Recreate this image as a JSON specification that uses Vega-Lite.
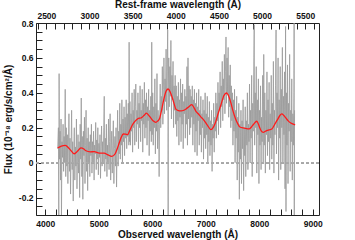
{
  "$schema": "https://vega.github.io/schema/vega-lite/v6.json",
  "width": 283,
  "height": 192,
  "autosize": "none",
  "padding": {"left": 36, "top": 23, "right": 36, "bottom": 25},
  "background": "white",
  "view": {"stroke": "#222222", "strokeWidth": 1},
  "config": {
    "font": "Liberation Sans",
    "axis": {
      "grid": false,
      "domain": false,
      "tickColor": "#222222",
      "tickSize": -6,
      "labelFont": "Liberation Sans",
      "labelFontWeight": "bold",
      "labelFontSize": 8.5,
      "labelColor": "#111111",
      "titleFont": "Liberation Sans",
      "titleFontWeight": "bold",
      "titleFontSize": 10,
      "titleColor": "#111111",
      "labelFlush": false,
      "labelOverlap": false
    }
  },
  "datasets": {
    "spec": [
      {"wave": 4232, "flux": 0.08}, {"wave": 4245, "flux": 0.20}, {"wave": 4252, "flux": -0.33}, {"wave": 4258, "flux": 0.51},
      {"wave": 4266, "flux": 0.02}, {"wave": 4276, "flux": 0.18}, {"wave": 4285, "flux": -0.10}, {"wave": 4294, "flux": 0.25},
      {"wave": 4302, "flux": -0.31}, {"wave": 4312, "flux": 0.12}, {"wave": 4322, "flux": 0.03}, {"wave": 4332, "flux": 0.22},
      {"wave": 4342, "flux": -0.05}, {"wave": 4352, "flux": 0.15}, {"wave": 4362, "flux": 0.00}, {"wave": 4372, "flux": 0.42},
      {"wave": 4382, "flux": -0.08}, {"wave": 4392, "flux": 0.20}, {"wave": 4402, "flux": -0.02}, {"wave": 4412, "flux": 0.16},
      {"wave": 4422, "flux": -0.12}, {"wave": 4432, "flux": 0.10}, {"wave": 4442, "flux": 0.28}, {"wave": 4452, "flux": -0.05},
      {"wave": 4462, "flux": 0.14}, {"wave": 4472, "flux": -0.18}, {"wave": 4482, "flux": 0.08}, {"wave": 4492, "flux": 0.30},
      {"wave": 4502, "flux": -0.04}, {"wave": 4512, "flux": 0.12}, {"wave": 4522, "flux": -0.22}, {"wave": 4532, "flux": 0.06},
      {"wave": 4542, "flux": 0.20}, {"wave": 4552, "flux": -0.10}, {"wave": 4562, "flux": 0.09}, {"wave": 4572, "flux": -0.02},
      {"wave": 4582, "flux": 0.25}, {"wave": 4592, "flux": -0.15}, {"wave": 4602, "flux": 0.05}, {"wave": 4612, "flux": 0.16},
      {"wave": 4622, "flux": -0.06}, {"wave": 4632, "flux": 0.12}, {"wave": 4642, "flux": -0.20}, {"wave": 4652, "flux": 0.22},
      {"wave": 4662, "flux": 0.02}, {"wave": 4672, "flux": 0.37}, {"wave": 4682, "flux": -0.08}, {"wave": 4692, "flux": 0.15},
      {"wave": 4702, "flux": -0.21}, {"wave": 4712, "flux": 0.18}, {"wave": 4722, "flux": 0.04}, {"wave": 4732, "flux": 0.26},
      {"wave": 4742, "flux": -0.12}, {"wave": 4752, "flux": 0.10}, {"wave": 4762, "flux": 0.30}, {"wave": 4772, "flux": -0.05},
      {"wave": 4782, "flux": 0.14}, {"wave": 4792, "flux": -0.16}, {"wave": 4802, "flux": 0.20}, {"wave": 4812, "flux": 0.00},
      {"wave": 4822, "flux": 0.12}, {"wave": 4832, "flux": -0.08}, {"wave": 4842, "flux": 0.16}, {"wave": 4852, "flux": 0.04},
      {"wave": 4862, "flux": 0.22}, {"wave": 4872, "flux": -0.06}, {"wave": 4882, "flux": 0.12}, {"wave": 4892, "flux": 0.00},
      {"wave": 4902, "flux": 0.18}, {"wave": 4912, "flux": -0.10}, {"wave": 4922, "flux": 0.10}, {"wave": 4932, "flux": 0.05},
      {"wave": 4942, "flux": 0.23}, {"wave": 4952, "flux": -0.04}, {"wave": 4962, "flux": 0.13}, {"wave": 4972, "flux": 0.02},
      {"wave": 4982, "flux": 0.20}, {"wave": 4992, "flux": -0.07}, {"wave": 5002, "flux": 0.11}, {"wave": 5012, "flux": 0.03},
      {"wave": 5022, "flux": 0.16}, {"wave": 5032, "flux": -0.09}, {"wave": 5042, "flux": 0.09}, {"wave": 5052, "flux": 0.21},
      {"wave": 5062, "flux": -0.02}, {"wave": 5072, "flux": 0.12}, {"wave": 5082, "flux": 0.00}, {"wave": 5092, "flux": 0.20},
      {"wave": 5102, "flux": 0.38}, {"wave": 5112, "flux": -0.05}, {"wave": 5122, "flux": 0.14}, {"wave": 5132, "flux": 0.02},
      {"wave": 5142, "flux": 0.22}, {"wave": 5152, "flux": -0.08}, {"wave": 5162, "flux": 0.10}, {"wave": 5172, "flux": 0.00},
      {"wave": 5182, "flux": 0.25}, {"wave": 5192, "flux": -0.04}, {"wave": 5202, "flux": 0.12}, {"wave": 5212, "flux": 0.28},
      {"wave": 5222, "flux": -0.10}, {"wave": 5232, "flux": 0.06}, {"wave": 5242, "flux": 0.18}, {"wave": 5252, "flux": -0.06},
      {"wave": 5262, "flux": 0.10}, {"wave": 5272, "flux": 0.24}, {"wave": 5282, "flux": -0.12}, {"wave": 5292, "flux": 0.08},
      {"wave": 5302, "flux": 0.15}, {"wave": 5312, "flux": -0.02}, {"wave": 5322, "flux": 0.20}, {"wave": 5332, "flux": -0.14},
      {"wave": 5342, "flux": 0.10}, {"wave": 5352, "flux": 0.30}, {"wave": 5362, "flux": -0.02}, {"wave": 5372, "flux": 0.18},
      {"wave": 5382, "flux": 0.05}, {"wave": 5392, "flux": 0.34}, {"wave": 5402, "flux": 0.02}, {"wave": 5412, "flux": 0.22},
      {"wave": 5422, "flux": 0.10}, {"wave": 5432, "flux": 0.36}, {"wave": 5442, "flux": 0.00}, {"wave": 5452, "flux": 0.25},
      {"wave": 5462, "flux": 0.12}, {"wave": 5472, "flux": 0.32}, {"wave": 5482, "flux": 0.04}, {"wave": 5492, "flux": 0.26},
      {"wave": 5502, "flux": 0.14}, {"wave": 5512, "flux": 0.36}, {"wave": 5522, "flux": 0.08}, {"wave": 5532, "flux": 0.28},
      {"wave": 5542, "flux": 0.15}, {"wave": 5552, "flux": 0.34}, {"wave": 5562, "flux": 0.10}, {"wave": 5567, "flux": 0.69},
      {"wave": 5575, "flux": 0.12}, {"wave": 5582, "flux": 0.35}, {"wave": 5592, "flux": 0.10}, {"wave": 5602, "flux": 0.28},
      {"wave": 5612, "flux": 0.18}, {"wave": 5622, "flux": 0.40}, {"wave": 5632, "flux": 0.06}, {"wave": 5642, "flux": 0.30},
      {"wave": 5652, "flux": 0.20}, {"wave": 5662, "flux": 0.42}, {"wave": 5672, "flux": 0.10}, {"wave": 5682, "flux": 0.32},
      {"wave": 5692, "flux": 0.45}, {"wave": 5702, "flux": 0.12}, {"wave": 5712, "flux": 0.30}, {"wave": 5722, "flux": 0.22},
      {"wave": 5732, "flux": 0.40}, {"wave": 5742, "flux": 0.08}, {"wave": 5752, "flux": 0.34}, {"wave": 5762, "flux": 0.20},
      {"wave": 5772, "flux": 0.44}, {"wave": 5782, "flux": 0.12}, {"wave": 5792, "flux": 0.30}, {"wave": 5802, "flux": 0.24},
      {"wave": 5812, "flux": 0.42}, {"wave": 5822, "flux": 0.06}, {"wave": 5832, "flux": 0.34}, {"wave": 5842, "flux": 0.22},
      {"wave": 5852, "flux": 0.46}, {"wave": 5862, "flux": 0.14}, {"wave": 5872, "flux": 0.36}, {"wave": 5882, "flux": 0.20},
      {"wave": 5892, "flux": 0.40}, {"wave": 5902, "flux": 0.10}, {"wave": 5912, "flux": 0.32}, {"wave": 5922, "flux": 0.24},
      {"wave": 5932, "flux": 0.42}, {"wave": 5942, "flux": 0.04}, {"wave": 5952, "flux": 0.30}, {"wave": 5962, "flux": 0.18},
      {"wave": 5972, "flux": 0.38}, {"wave": 5982, "flux": 0.12}, {"wave": 5990, "flux": 0.69}, {"wave": 5998, "flux": 0.16},
      {"wave": 6008, "flux": 0.40}, {"wave": 6018, "flux": 0.10}, {"wave": 6028, "flux": 0.32}, {"wave": 6038, "flux": 0.20},
      {"wave": 6048, "flux": 0.48}, {"wave": 6058, "flux": 0.05}, {"wave": 6068, "flux": 0.34}, {"wave": 6078, "flux": 0.18},
      {"wave": 6088, "flux": 0.51}, {"wave": 6098, "flux": 0.08}, {"wave": 6108, "flux": 0.30}, {"wave": 6118, "flux": 0.22},
      {"wave": 6128, "flux": -0.08}, {"wave": 6138, "flux": 0.26}, {"wave": 6148, "flux": 0.45}, {"wave": 6158, "flux": 0.20},
      {"wave": 6168, "flux": 0.38}, {"wave": 6178, "flux": 0.30}, {"wave": 6188, "flux": 0.55}, {"wave": 6198, "flux": 0.22},
      {"wave": 6208, "flux": 0.42}, {"wave": 6218, "flux": 0.60}, {"wave": 6228, "flux": 0.28}, {"wave": 6238, "flux": 0.48},
      {"wave": 6248, "flux": 0.35}, {"wave": 6258, "flux": 0.65}, {"wave": 6268, "flux": 0.30}, {"wave": 6278, "flux": 0.52},
      {"wave": 6288, "flux": 0.76}, {"wave": 6294, "flux": 0.40}, {"wave": 6297, "flux": -0.32}, {"wave": 6300, "flux": 0.45},
      {"wave": 6308, "flux": 0.60}, {"wave": 6318, "flux": 0.32}, {"wave": 6328, "flux": 0.55}, {"wave": 6338, "flux": 0.38},
      {"wave": 6348, "flux": 0.70}, {"wave": 6358, "flux": 0.25}, {"wave": 6368, "flux": 0.50}, {"wave": 6378, "flux": 0.36},
      {"wave": 6388, "flux": 0.58}, {"wave": 6398, "flux": 0.20}, {"wave": 6408, "flux": 0.44}, {"wave": 6418, "flux": 0.30},
      {"wave": 6428, "flux": 0.50}, {"wave": 6438, "flux": 0.22}, {"wave": 6448, "flux": 0.44}, {"wave": 6458, "flux": 0.15},
      {"wave": 6468, "flux": 0.38}, {"wave": 6478, "flux": 0.24}, {"wave": 6488, "flux": 0.46}, {"wave": 6498, "flux": 0.10},
      {"wave": 6508, "flux": 0.36}, {"wave": 6518, "flux": 0.26}, {"wave": 6528, "flux": 0.48}, {"wave": 6538, "flux": 0.12},
      {"wave": 6548, "flux": 0.40}, {"wave": 6558, "flux": 0.22}, {"wave": 6568, "flux": 0.45}, {"wave": 6578, "flux": 0.08},
      {"wave": 6588, "flux": 0.35}, {"wave": 6598, "flux": 0.28}, {"wave": 6608, "flux": 0.42}, {"wave": 6618, "flux": 0.14},
      {"wave": 6628, "flux": 0.38}, {"wave": 6638, "flux": 0.22}, {"wave": 6648, "flux": 0.55}, {"wave": 6658, "flux": 0.10},
      {"wave": 6668, "flux": 0.60}, {"wave": 6678, "flux": 0.25}, {"wave": 6688, "flux": 0.44}, {"wave": 6698, "flux": 0.16},
      {"wave": 6708, "flux": 0.42}, {"wave": 6718, "flux": 0.20}, {"wave": 6728, "flux": 0.38}, {"wave": 6738, "flux": 0.26},
      {"wave": 6748, "flux": 0.44}, {"wave": 6758, "flux": 0.10}, {"wave": 6768, "flux": 0.36}, {"wave": 6778, "flux": 0.22},
      {"wave": 6788, "flux": 0.42}, {"wave": 6798, "flux": 0.06}, {"wave": 6808, "flux": 0.34}, {"wave": 6818, "flux": 0.18},
      {"wave": 6828, "flux": 0.40}, {"wave": 6838, "flux": 0.04}, {"wave": 6848, "flux": 0.32}, {"wave": 6858, "flux": 0.24},
      {"wave": 6868, "flux": 0.42}, {"wave": 6878, "flux": 0.10}, {"wave": 6888, "flux": 0.30}, {"wave": 6898, "flux": 0.16},
      {"wave": 6908, "flux": 0.38}, {"wave": 6918, "flux": 0.06}, {"wave": 6928, "flux": 0.28}, {"wave": 6938, "flux": 0.20},
      {"wave": 6948, "flux": 0.36}, {"wave": 6958, "flux": 0.02}, {"wave": 6968, "flux": 0.30}, {"wave": 6978, "flux": 0.14},
      {"wave": 6988, "flux": 0.40}, {"wave": 6998, "flux": 0.08}, {"wave": 7008, "flux": 0.28}, {"wave": 7018, "flux": 0.16},
      {"wave": 7028, "flux": 0.38}, {"wave": 7038, "flux": 0.00}, {"wave": 7048, "flux": 0.26}, {"wave": 7058, "flux": 0.12},
      {"wave": 7068, "flux": 0.35}, {"wave": 7078, "flux": 0.04}, {"wave": 7088, "flux": 0.24}, {"wave": 7098, "flux": 0.10},
      {"wave": 7108, "flux": 0.30}, {"wave": 7118, "flux": -0.05}, {"wave": 7128, "flux": 0.22}, {"wave": 7138, "flux": 0.14},
      {"wave": 7148, "flux": 0.34}, {"wave": 7158, "flux": 0.06}, {"wave": 7168, "flux": 0.26}, {"wave": 7178, "flux": 0.18},
      {"wave": 7188, "flux": 0.40}, {"wave": 7198, "flux": 0.14}, {"wave": 7208, "flux": 0.34}, {"wave": 7218, "flux": 0.24},
      {"wave": 7228, "flux": 0.46}, {"wave": 7238, "flux": 0.16}, {"wave": 7248, "flux": 0.40}, {"wave": 7258, "flux": 0.30},
      {"wave": 7268, "flux": 0.52}, {"wave": 7278, "flux": 0.20}, {"wave": 7288, "flux": 0.44}, {"wave": 7298, "flux": 0.32},
      {"wave": 7308, "flux": 0.58}, {"wave": 7318, "flux": 0.24}, {"wave": 7328, "flux": 0.48}, {"wave": 7338, "flux": 0.36},
      {"wave": 7348, "flux": 0.62}, {"wave": 7358, "flux": 0.28}, {"wave": 7368, "flux": 0.52}, {"wave": 7378, "flux": 0.72},
      {"wave": 7388, "flux": 0.34}, {"wave": 7398, "flux": 0.60}, {"wave": 7408, "flux": 0.40}, {"wave": 7418, "flux": 0.66},
      {"wave": 7428, "flux": 0.26}, {"wave": 7438, "flux": 0.50}, {"wave": 7448, "flux": 0.32}, {"wave": 7458, "flux": 0.56},
      {"wave": 7468, "flux": 0.20}, {"wave": 7478, "flux": 0.44}, {"wave": 7488, "flux": 0.24}, {"wave": 7498, "flux": 0.40},
      {"wave": 7508, "flux": 0.10}, {"wave": 7518, "flux": 0.36}, {"wave": 7528, "flux": 0.18}, {"wave": 7538, "flux": 0.42},
      {"wave": 7548, "flux": 0.00}, {"wave": 7558, "flux": 0.30}, {"wave": 7568, "flux": 0.14}, {"wave": 7578, "flux": 0.38},
      {"wave": 7588, "flux": -0.10}, {"wave": 7598, "flux": 0.26}, {"wave": 7608, "flux": 0.06}, {"wave": 7618, "flux": 0.34},
      {"wave": 7628, "flux": -0.21}, {"wave": 7638, "flux": 0.22}, {"wave": 7648, "flux": 0.02}, {"wave": 7658, "flux": 0.30},
      {"wave": 7668, "flux": -0.12}, {"wave": 7678, "flux": 0.24}, {"wave": 7688, "flux": 0.08}, {"wave": 7698, "flux": 0.36},
      {"wave": 7708, "flux": -0.16}, {"wave": 7718, "flux": 0.20}, {"wave": 7728, "flux": 0.04}, {"wave": 7738, "flux": 0.32},
      {"wave": 7748, "flux": -0.08}, {"wave": 7758, "flux": 0.24}, {"wave": 7768, "flux": 0.10}, {"wave": 7778, "flux": 0.40},
      {"wave": 7788, "flux": -0.04}, {"wave": 7798, "flux": 0.22}, {"wave": 7808, "flux": 0.12}, {"wave": 7818, "flux": 0.45},
      {"wave": 7828, "flux": 0.00}, {"wave": 7838, "flux": 0.30}, {"wave": 7848, "flux": 0.14}, {"wave": 7858, "flux": 0.50},
      {"wave": 7868, "flux": -0.08}, {"wave": 7878, "flux": 0.34}, {"wave": 7888, "flux": 0.18}, {"wave": 7898, "flux": 0.60},
      {"wave": 7906, "flux": 0.79}, {"wave": 7914, "flux": 0.10}, {"wave": 7924, "flux": 0.40}, {"wave": 7934, "flux": 0.20},
      {"wave": 7944, "flux": 0.55}, {"wave": 7954, "flux": -0.06}, {"wave": 7964, "flux": 0.36}, {"wave": 7974, "flux": 0.16},
      {"wave": 7984, "flux": 0.48}, {"wave": 7994, "flux": -0.12}, {"wave": 8004, "flux": 0.30}, {"wave": 8014, "flux": 0.10},
      {"wave": 8024, "flux": 0.44}, {"wave": 8034, "flux": -0.04}, {"wave": 8044, "flux": 0.26}, {"wave": 8054, "flux": 0.12},
      {"wave": 8064, "flux": 0.50}, {"wave": 8074, "flux": 0.00}, {"wave": 8084, "flux": 0.62}, {"wave": 8094, "flux": 0.10},
      {"wave": 8104, "flux": 0.40}, {"wave": 8114, "flux": -0.06}, {"wave": 8124, "flux": 0.30}, {"wave": 8134, "flux": 0.16},
      {"wave": 8144, "flux": 0.52}, {"wave": 8154, "flux": 0.04}, {"wave": 8164, "flux": 0.36}, {"wave": 8174, "flux": 0.12},
      {"wave": 8184, "flux": 0.46}, {"wave": 8194, "flux": -0.04}, {"wave": 8204, "flux": 0.28}, {"wave": 8214, "flux": 0.14},
      {"wave": 8224, "flux": 0.50}, {"wave": 8234, "flux": 0.02}, {"wave": 8244, "flux": 0.34}, {"wave": 8254, "flux": 0.10},
      {"wave": 8264, "flux": 0.58}, {"wave": 8274, "flux": -0.06}, {"wave": 8284, "flux": 0.30}, {"wave": 8294, "flux": 0.16},
      {"wave": 8304, "flux": 0.44}, {"wave": 8314, "flux": 0.76}, {"wave": 8322, "flux": 0.05}, {"wave": 8332, "flux": 0.40},
      {"wave": 8342, "flux": 0.20}, {"wave": 8352, "flux": 0.60}, {"wave": 8362, "flux": -0.10}, {"wave": 8372, "flux": 0.36},
      {"wave": 8382, "flux": 0.14}, {"wave": 8392, "flux": 0.55}, {"wave": 8402, "flux": -0.04}, {"wave": 8412, "flux": 0.42},
      {"wave": 8422, "flux": 0.20}, {"wave": 8432, "flux": 0.66}, {"wave": 8442, "flux": 0.00}, {"wave": 8452, "flux": 0.38},
      {"wave": 8462, "flux": 0.16}, {"wave": 8472, "flux": 0.52}, {"wave": 8482, "flux": -0.15}, {"wave": 8492, "flux": 0.78},
      {"wave": 8500, "flux": -0.28}, {"wave": 8508, "flux": 0.40}, {"wave": 8518, "flux": 0.10}, {"wave": 8528, "flux": 0.56},
      {"wave": 8538, "flux": -0.12}, {"wave": 8548, "flux": 0.34}, {"wave": 8558, "flux": 0.18}, {"wave": 8568, "flux": 0.62},
      {"wave": 8578, "flux": -0.05}, {"wave": 8588, "flux": 0.30}, {"wave": 8598, "flux": 0.12}, {"wave": 8608, "flux": 0.48},
      {"wave": 8618, "flux": -0.10}, {"wave": 8628, "flux": 0.28}, {"wave": 8638, "flux": 0.10}, {"wave": 8648, "flux": 0.40},
      {"wave": 8652, "flux": 0.82}, {"wave": 8655, "flux": -0.32}, {"wave": 8660, "flux": 0.30}
    ],
    "model": [
      {"wave": 4230, "flux": 0.084}, {"wave": 4300, "flux": 0.095}, {"wave": 4373, "flux": 0.099}, {"wave": 4450, "flux": 0.08},
      {"wave": 4541, "flux": 0.051}, {"wave": 4600, "flux": 0.065}, {"wave": 4666, "flux": 0.084}, {"wave": 4720, "flux": 0.078},
      {"wave": 4759, "flux": 0.068}, {"wave": 4840, "flux": 0.062}, {"wave": 4915, "flux": 0.063}, {"wave": 5008, "flux": 0.055},
      {"wave": 5101, "flux": 0.055}, {"wave": 5163, "flux": 0.046}, {"wave": 5244, "flux": 0.036}, {"wave": 5306, "flux": 0.051},
      {"wave": 5345, "flux": 0.08}, {"wave": 5381, "flux": 0.112}, {"wave": 5420, "flux": 0.145}, {"wave": 5456, "flux": 0.164},
      {"wave": 5500, "flux": 0.163}, {"wave": 5537, "flux": 0.160}, {"wave": 5580, "flux": 0.185}, {"wave": 5630, "flux": 0.217},
      {"wave": 5680, "flux": 0.238}, {"wave": 5723, "flux": 0.250}, {"wave": 5804, "flux": 0.259}, {"wave": 5850, "flux": 0.272},
      {"wave": 5891, "flux": 0.284}, {"wave": 5930, "flux": 0.272}, {"wave": 5972, "flux": 0.256}, {"wave": 6020, "flux": 0.238},
      {"wave": 6065, "flux": 0.231}, {"wave": 6100, "flux": 0.238}, {"wave": 6140, "flux": 0.256}, {"wave": 6180, "flux": 0.31},
      {"wave": 6221, "flux": 0.370}, {"wave": 6260, "flux": 0.41}, {"wave": 6296, "flux": 0.422}, {"wave": 6335, "flux": 0.405},
      {"wave": 6376, "flux": 0.370}, {"wave": 6410, "flux": 0.335}, {"wave": 6444, "flux": 0.305}, {"wave": 6490, "flux": 0.298},
      {"wave": 6537, "flux": 0.296}, {"wave": 6590, "flux": 0.300}, {"wave": 6631, "flux": 0.307}, {"wave": 6690, "flux": 0.322},
      {"wave": 6736, "flux": 0.332}, {"wave": 6780, "flux": 0.315}, {"wave": 6817, "flux": 0.294}, {"wave": 6860, "flux": 0.28},
      {"wave": 6911, "flux": 0.261}, {"wave": 6960, "flux": 0.245}, {"wave": 7004, "flux": 0.227}, {"wave": 7050, "flux": 0.205},
      {"wave": 7097, "flux": 0.189}, {"wave": 7140, "flux": 0.202}, {"wave": 7178, "flux": 0.227}, {"wave": 7230, "flux": 0.28},
      {"wave": 7284, "flux": 0.332}, {"wave": 7340, "flux": 0.385}, {"wave": 7389, "flux": 0.399}, {"wave": 7430, "flux": 0.38},
      {"wave": 7470, "flux": 0.342}, {"wave": 7510, "flux": 0.295}, {"wave": 7551, "flux": 0.256}, {"wave": 7595, "flux": 0.225},
      {"wave": 7638, "flux": 0.204}, {"wave": 7719, "flux": 0.198}, {"wave": 7812, "flux": 0.193}, {"wave": 7850, "flux": 0.203},
      {"wave": 7887, "flux": 0.217}, {"wave": 7925, "flux": 0.232}, {"wave": 7955, "flux": 0.237}, {"wave": 7985, "flux": 0.22},
      {"wave": 8011, "flux": 0.198}, {"wave": 8040, "flux": 0.18}, {"wave": 8074, "flux": 0.173}, {"wave": 8115, "flux": 0.18},
      {"wave": 8155, "flux": 0.185}, {"wave": 8235, "flux": 0.193}, {"wave": 8290, "flux": 0.22}, {"wave": 8341, "flux": 0.246},
      {"wave": 8385, "flux": 0.27}, {"wave": 8422, "flux": 0.279}, {"wave": 8460, "flux": 0.27}, {"wave": 8497, "flux": 0.256},
      {"wave": 8545, "flux": 0.238}, {"wave": 8590, "flux": 0.227}, {"wave": 8671, "flux": 0.217}
    ],
    "restframe": [{"rest": 2500}, {"rest": 5500}]
  },
  "layer": [
    {
      "encoding": {
        "x": {
          "field": "wave", "type": "quantitative",
          "scale": {"domain": [3826, 9117], "nice": false, "zero": false},
          "axis": {
            "orient": "bottom",
            "title": "Observed wavelength (Å)",
            "values": [4000,4200,4400,4600,4800,5000,5200,5400,5600,5800,6000,6200,6400,6600,6800,7000,7200,7400,7600,7800,8000,8200,8400,8600,8800,9000],
            "labelExpr": "datum.value % 1000 === 0 ? '' + datum.value : ''",
            "encoding": {"ticks": {"update": {"y2": {"signal": "datum.value % 1000 === 0 ? -6 : -3"}}}},
            "labelPadding": 10,
            "titlePadding": 2
          }
        },
        "y": {
          "field": "flux", "type": "quantitative",
          "scale": {"domain": [-0.3, 0.8], "nice": false, "zero": false},
          "axis": {
            "orient": "left",
            "title": "Flux (10⁻¹⁸ erg/s/cm²/Å)",
            "values": [-0.3,-0.25,-0.2,-0.15,-0.1,-0.05,0,0.05,0.1,0.15,0.2,0.25,0.3,0.35,0.4,0.45,0.5,0.55,0.6,0.65,0.7,0.75,0.8],
            "labelExpr": "abs(datum.value*5 - round(datum.value*5)) < 0.001 ? (abs(datum.value) < 0.001 ? '0' : (datum.value < 0 ? '-' : '') + toString(round(abs(datum.value)*10)/10)) : ''",
            "encoding": {"ticks": {"update": {"x2": {"signal": "abs(datum.value*5 - round(datum.value*5)) < 0.001 ? 6 : 3"}}}},
            "labelPadding": 9,
            "titlePadding": 5
          }
        }
      },
      "layer": [
        {
          "data": {"name": "spec"},
          "mark": {"type": "line", "color": "#999999", "strokeWidth": 0.8, "clip": true}
        },
        {
          "data": {"name": "model"},
          "mark": {"type": "rule", "color": "#aaaaaa", "strokeWidth": 0.8, "strokeDash": [3, 2]},
          "encoding": {"x": {"datum": 3826}, "x2": {"datum": 9117}, "y": {"datum": 0}}
        },
        {
          "data": {"name": "model"},
          "mark": {"type": "line", "color": "#ff1a1a", "strokeWidth": 1.3, "interpolate": "monotone"}
        }
      ]
    },
    {
      "data": {"name": "restframe"},
      "mark": {"type": "point", "opacity": 0},
      "encoding": {
        "x": {
          "field": "rest", "type": "quantitative",
          "scale": {"domain": [2380, 5660], "nice": false, "zero": false},
          "axis": {
            "orient": "top",
            "title": "Rest-frame wavelength (Å)",
            "values": [2400,2500,2600,2700,2800,2900,3000,3100,3200,3300,3400,3500,3600,3700,3800,3900,4000,4100,4200,4300,4400,4500,4600,4700,4800,4900,5000,5100,5200,5300,5400,5500,5600],
            "labelExpr": "datum.value % 500 === 0 ? '' + datum.value : ''",
            "encoding": {"ticks": {"update": {"y2": {"signal": "datum.value % 500 === 0 ? 6 : 3"}}}},
            "labelPadding": 9,
            "titlePadding": 2
          }
        }
      }
    }
  ],
  "resolve": {"scale": {"x": "independent"}}
}
